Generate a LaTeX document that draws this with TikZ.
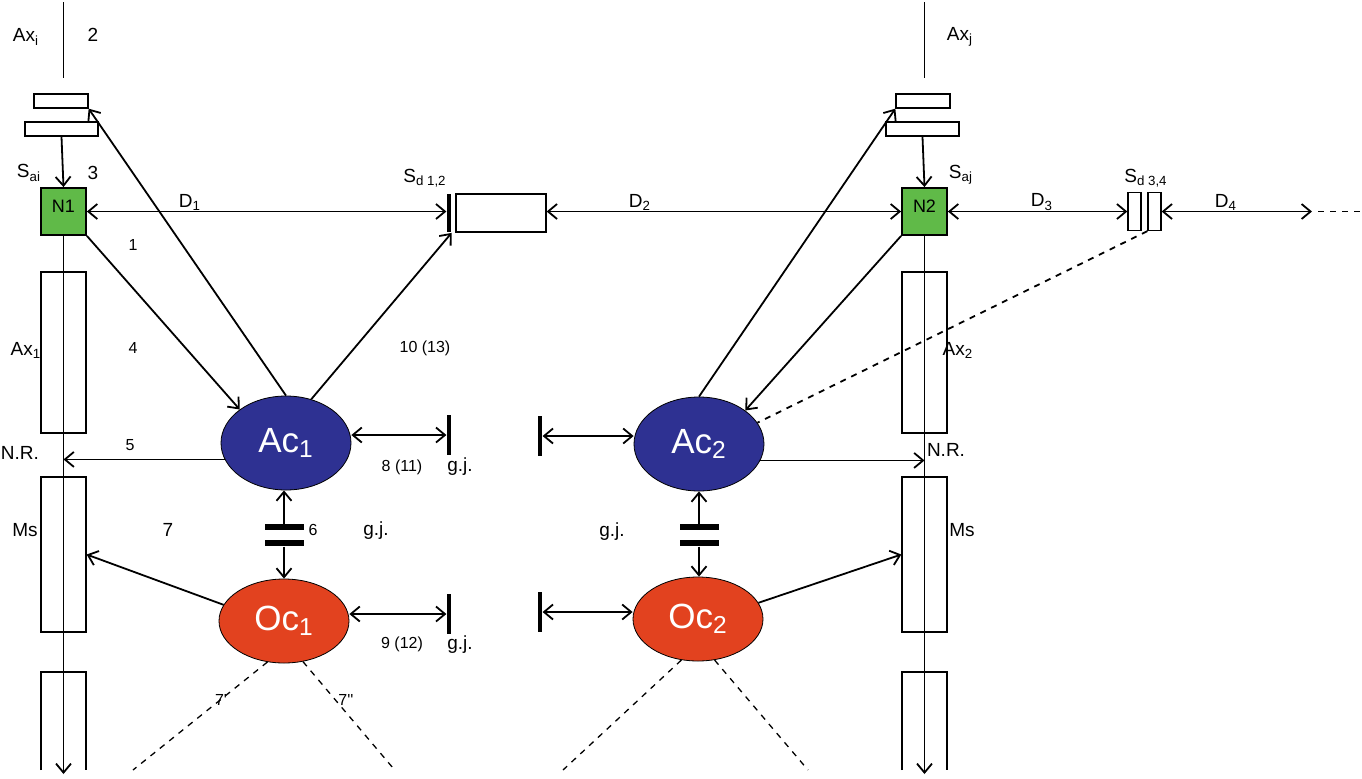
\documentclass[tikz,border=0pt]{standalone}
\usepackage{fontspec}
\setmainfont{Liberation Sans}
\usetikzlibrary{shapes.geometric,arrows.meta}

\definecolor{astroblue}{RGB}{46,49,146}
\definecolor{oligored}{RGB}{226,66,31}
\definecolor{somagreen}{RGB}{96,186,72}

\tikzset{
  cell/.style={ellipse, draw=black, thin, minimum width=65pt, text=white,
    inner sep=0pt, font=\fontsize{17.5}{17.5}\selectfont},
  astro/.style={cell, fill=astroblue, minimum height=47pt},
  oligo/.style={cell, fill=oligored, minimum height=42pt},
  soma/.style={draw, fill=somagreen, minimum width=22.5pt, minimum height=23.5pt,
    inner sep=0pt, text depth=5pt, font=\fontsize{9}{9}\selectfont},
  sheath/.style={draw, line width=0.65pt, minimum width=22.5pt, inner sep=0pt},
  bouton/.style={draw, line width=0.65pt, minimum height=7pt, inner sep=0pt},
  endbar/.style={fill=black, inner sep=0pt, minimum width=1.7pt, minimum height=20pt},
  gjbar/.style={fill=black, inner sep=0pt, minimum width=19.5pt, minimum height=2.6pt},
  syn/.style={draw, line width=0.65pt, inner sep=0pt, minimum height=19pt},
  big/.style={font=\fontsize{9.5}{9.5}\selectfont},
  small/.style={font=\fontsize{8}{8}\selectfont},
}

\begin{document}
\begin{tikzpicture}[x=0.5pt,y=-0.5pt,line width=0.9pt,>={Straight Barb[length=4.5pt,width=7.5pt]}]
  \useasboundingbox (0,0) rectangle (1362,778);

  % left neuron
  \coordinate (axtop1) at (63.5,2);
  \coordinate (axbot1) at (63.5,78);
  \coordinate (axend1) at (63.5,774);
  \node[bouton, minimum width=27pt]   (upbtn1)  at (61,101)    {};
  \node[bouton, minimum width=36.5pt] (lowbtn1) at (61.5,129)  {};
  \node[soma] (N1) at (63.5,211.5) {N1};
  \node[sheath, minimum height=80.5pt] (ax1) at (63.5,352.5) {};
  \node[sheath, minimum height=77.5pt] (ms1) at (63.5,554.5) {};
  \draw[line width=0.65pt] (41,770) -- (41,672) -- (86,672) -- (86,770);

  % right neuron
  \coordinate (axtop2) at (924.5,2);
  \coordinate (axbot2) at (924.5,78);
  \coordinate (axend2) at (924.5,774);
  \node[bouton, minimum width=27pt]   (upbtn2)  at (923,101)   {};
  \node[bouton, minimum width=36.5pt] (lowbtn2) at (922.5,129) {};
  \node[soma] (N2) at (924.5,211.5) {N2};
  \node[sheath, minimum height=80.5pt] (ax2) at (924.5,352.5) {};
  \node[sheath, minimum height=77.5pt] (ms2) at (924.5,554.5) {};
  \draw[line width=0.65pt] (902,770) -- (902,672) -- (947,672) -- (947,770);

  % glia
  \node[astro] (Ac1) at (286,443) {Ac\textsubscript{1}};
  \node[oligo] (Oc1) at (284,621) {Oc\textsubscript{1}};
  \node[astro] (Ac2) at (699,444) {Ac\textsubscript{2}};
  \node[oligo] (Oc2) at (698,619) {Oc\textsubscript{2}};

  \node[gjbar] (gj1a) at (284,527) {};
  \node[gjbar] (gj1b) at (284,543) {};
  \node[gjbar] (gj2a) at (699,527) {};
  \node[gjbar] (gj2b) at (699,543) {};

  \node[endbar] (tb1) at (449,435) {};
  \node[endbar] (tb2) at (449,614) {};
  \node[endbar] (tb3) at (540,436) {};
  \node[endbar] (tb4) at (540,612) {};

  % synapses between neurons
  \node[endbar, minimum height=19pt] (sdbar) at (449,213) {};
  \node[syn, minimum width=45pt] (sdbox) at (501,213) {};
  \node[syn, minimum width=6.5pt] (sd3) at (1134.5,211.5) {};
  \node[syn, minimum width=6.5pt] (sd4) at (1154.5,211.5) {};
  \coordinate (d4end) at (1312,211.5);
  \coordinate (d4dash) at (1318,211.5);
  \coordinate (dashend) at (1362,211.5);

  % axons
  \draw (axtop1) -- (axbot1);
  \draw (axtop2) -- (axbot2);
  \draw[->] (lowbtn1.south) -- (N1.north);
  \draw[->] (lowbtn2.south) -- (N2.north);
  \draw[->] (N1.south) -- (axend1);
  \draw[->] (N2.south) -- (axend2);

  % distances
  \draw[<->] (N1.east) -- (N1.east -| sdbar.west);
  \draw[<->] (sdbox.east |- N2.west) -- (N2.west);
  \draw[<->] (N2.east) -- (sd3.west);
  \draw[<->] (sd4.east) -- (d4end);
  \draw[dashed] (d4dash) -- (dashend);

  % neuron - glia
  \draw[->] (N1.south east) -- (Ac1.north west);
  \draw[->] (Ac1.north) -- (upbtn1.south east);
  \draw[->] (Ac1.60) -- (sdbar.south east);
  \draw[->] (Ac1.195) -- (Ac1.195 -| N1);
  \draw[->] (Oc1.165) -- (ms1.east);
  \draw[->] (Ac2.north) -- (upbtn2.south west);
  \draw[->] (N2.south west) -- (Ac2.north east);
  \draw[->] (Ac2.-15) -- (Ac2.-15 -| N2);
  \draw[->] (Oc2.15) -- (ms2.west);
  \draw[dashed] (sd4.south west) -- (Ac2.20);

  % glia - glia
  \draw[->] (gj1a.north) -- (gj1a.north |- Ac1.south);
  \draw[->] (gj1b.south) -- (gj1b.south |- Oc1.north);
  \draw[->] (gj2a.north) -- (gj2a.north |- Ac2.south);
  \draw[->] (gj2b.south) -- (gj2b.south |- Oc2.north);
  \draw[<->] (Ac1.east |- tb1) -- (tb1.west);
  \draw[<->] (Oc1.east |- tb2) -- (tb2.west);
  \draw[<->] (tb3.east) -- (tb3 -| Ac2.west);
  \draw[<->] (tb4.east) -- (tb4 -| Oc2.west);

  % myelin out of view
  \coordinate (o1l) at (133,770);
  \coordinate (o1r) at (393,768);
  \coordinate (o2l) at (563,770);
  \coordinate (o2r) at (808,770);
  \draw[dashed, line width=0.65pt] (Oc1.-112) -- (o1l);
  \draw[dashed, line width=0.65pt] (Oc1.-65) -- (o1r);
  \draw[dashed, line width=0.65pt] (Oc2.-112) -- (o2l);
  \draw[dashed, line width=0.65pt] (Oc2.-68) -- (o2r);

  % labels
  \node[big] (laxi) at (26,37) {Ax\textsubscript{i}};
  \node[big] (l2) at (93,35) {2};
  \node[big] (lsai) at (29,173) {S\textsubscript{ai}};
  \node[big] (l3) at (93,173) {3};
  \node[big] (ld1) at (190,202) {D\textsubscript{1}};
  \node[small] (l1) at (133,245) {1};
  \node[big] (lax1) at (26,350) {Ax\textsubscript{1}};
  \node[small] (l4) at (133,348) {4};
  \node[small] (l1013) at (425,348) {10 (13)};
  \node[big] (lsd12) at (425,178) {S\textsubscript{d 1,2}};
  \node[big] (ld2) at (640,202) {D\textsubscript{2}};
  \node[big] (laxj) at (960,37) {Ax\textsubscript{j}};
  \node[big] (lsaj) at (961,175) {S\textsubscript{aj}};
  \node[big] (ld3) at (1042,202) {D\textsubscript{3}};
  \node[big] (lsd34) at (1146,178) {S\textsubscript{d 3,4}};
  \node[big] (ld4) at (1226,202) {D\textsubscript{4}};
  \node[big] (lax2) at (958,350) {Ax\textsubscript{2}};
  \node[big] (lnr1) at (20,453) {N.R.};
  \node[big] (lnr2) at (946,450) {N.R.};
  \node[small] (l5) at (130,445) {5};
  \node[small] (l811) at (402,467) {8 (11)};
  \node[big] (lgj1) at (460,467) {g.j.};
  \node[big] (lms1) at (25,530) {Ms};
  \node[big] (lms2) at (962,530) {Ms};
  \node[big] (l7) at (168,530) {7};
  \node[small] (l6) at (313,530) {6};
  \node[big] (lgj2) at (376,531) {g.j.};
  \node[big] (lgj3) at (612,532) {g.j.};
  \node[small] (l912) at (402,644) {9 (12)};
  \node[big] (lgj4) at (460,645) {g.j.};
  \node[small] (l7a) at (221,700) {7\textquotesingle};
  \node[small] (l7b) at (346,700) {7\textquotesingle\textquotesingle};
\end{tikzpicture}
\end{document}
